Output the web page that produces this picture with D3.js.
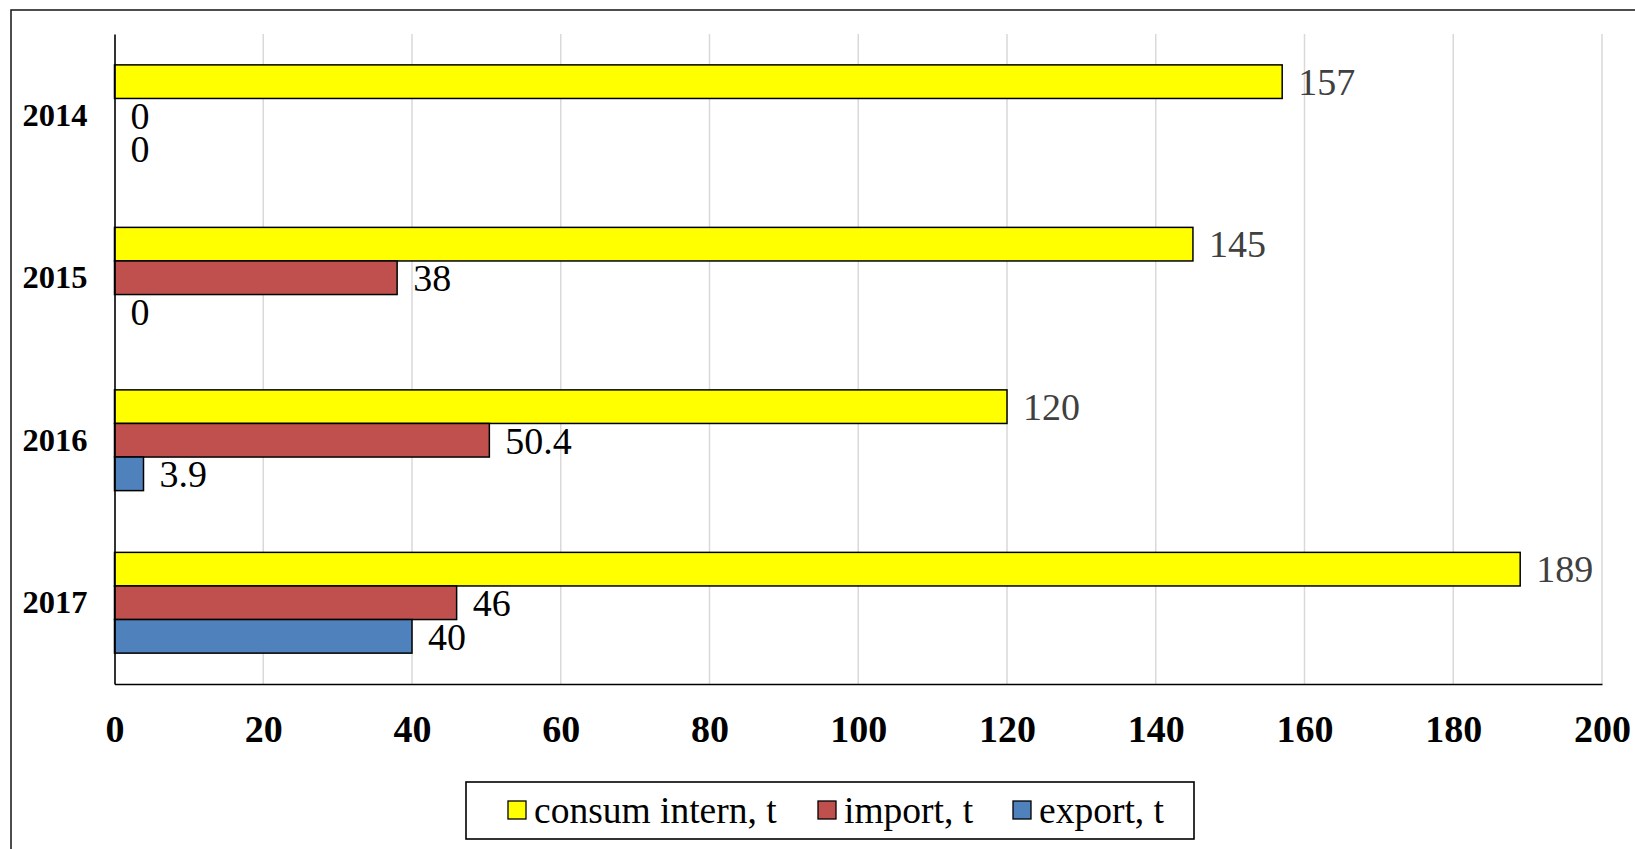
<!DOCTYPE html>
<html><head><meta charset="utf-8">
<script src="https://cdn.jsdelivr.net/npm/d3@7"></script>
<style>body{margin:0;background:#fff}svg{display:block}</style>
</head><body>
<script>
const categories = ["2014","2015","2016","2017"];
const seriesNames = ["consum intern, t","import, t","export, t"];
const consum = [157,145,120,189];
const importV = [0,38,50.4,46];
const exportV = [0,0,3.9,40];
const xTicks = [0,20,40,60,80,100,120,140,160,180,200];
const colors = ["#FFFF00","#C0504D","#4F81BD"];
const labelColors = ["#404040","#000","#000"];

const W=1635,H=849;
const svg=d3.select("body").append("svg").attr("width",W).attr("height",H);
const font="'Liberation Serif','Times New Roman',serif";

svg.append("rect").attr("x",11).attr("y",10).attr("width",W).attr("height",H)
  .attr("fill","none").attr("stroke","#222").attr("stroke-width",1.6);

const L=114.5,R=1602,T=34,B=684;
const x=d3.scaleLinear().domain([0,200]).range([L,R]);
const y=d3.scaleBand().domain(categories).range([T,B]).paddingInner(0.38).paddingOuter(0.19);
const sub=d3.scaleBand().domain(d3.range(3)).range([0,y.bandwidth()]);

// gridlines
svg.append("g").selectAll("line").data(xTicks.slice(1)).join("line")
  .attr("x1",d=>x(d)).attr("x2",d=>x(d)).attr("y1",T).attr("y2",B)
  .attr("stroke","#d9d9d9").attr("stroke-width",1.5);

const series=[consum,importV,exportV];
const data=[];
categories.forEach((c,i)=>series.forEach((s,j)=>data.push({c,j,v:s[i]})));

svg.append("g").selectAll("rect").data(data.filter(d=>d.v>0)).join("rect")
  .attr("x",x(0)).attr("y",d=>y(d.c)+sub(d.j))
  .attr("width",d=>x(d.v)-x(0)).attr("height",sub.bandwidth())
  .attr("fill",d=>colors[d.j]).attr("stroke","#000").attr("stroke-width",1.5);

svg.append("g").selectAll("text").data(data).join("text")
  .attr("x",d=>x(d.v)+16).attr("y",d=>y(d.c)+sub(d.j)+sub.bandwidth()/2)
  .attr("dy","0.35em").attr("font-family",font).attr("font-size",38)
  .attr("fill",d=>labelColors[d.j]).text(d=>d.v);

// axes
const xAxis=svg.append("g").attr("transform",`translate(0,${B})`)
  .call(d3.axisBottom(x).tickValues(xTicks).tickSize(0).tickPadding(31));
xAxis.select(".domain").attr("stroke","#000").attr("stroke-width",1.6);
xAxis.selectAll("text").attr("font-family",font).attr("font-size",38).attr("font-weight","bold").attr("fill","#000");

const yAxis=svg.append("g").attr("transform",`translate(${L},0)`)
  .call(d3.axisLeft(y).tickSize(0).tickPadding(27));
yAxis.select(".domain").attr("stroke","#000").attr("stroke-width",1.6);
yAxis.selectAll("text").attr("font-family",font).attr("font-size",32.5).attr("font-weight","bold").attr("fill","#000");

// legend
const lg=svg.append("g");
lg.append("rect").attr("x",466).attr("y",782).attr("width",728).attr("height",57)
  .attr("fill","#fff").attr("stroke","#000").attr("stroke-width",1.6);
const lx=[508,818,1013];
seriesNames.forEach((n,i)=>{
  lg.append("rect").attr("x",lx[i]).attr("y",801).attr("width",18).attr("height",18)
    .attr("fill",colors[i]).attr("stroke","#000").attr("stroke-width",1.3);
  lg.append("text").attr("x",lx[i]+26).attr("y",810).attr("dy","0.35em")
    .attr("font-family",font).attr("font-size",37.5).attr("fill","#000").text(n);
});
</script>
</body></html>
